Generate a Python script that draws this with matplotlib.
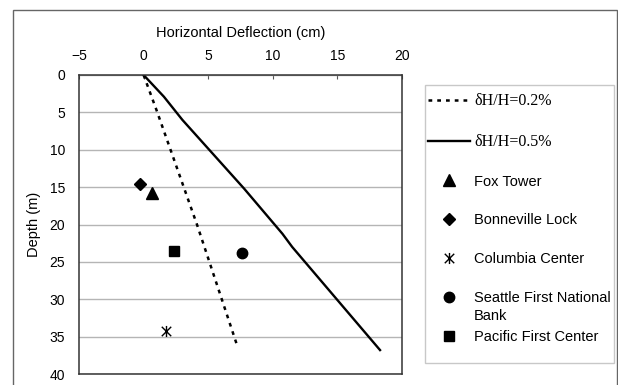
import matplotlib
matplotlib.use("Agg")
import matplotlib.pyplot as plt
from matplotlib.path import Path
from matplotlib.patches import Rectangle

# ---- data ----
depth_02 = [0, 4.7, 20.1, 36.5]
defl_02 = [0, 1.0, 4.15, 7.3]
depth_05 = [0, 2.9, 6.0, 15.2, 21.25, 23.0, 36.8]
defl_05 = [0, 1.57, 3.0, 7.78, 10.75, 11.5, 18.3]

buildings = ["Fox Tower", "Bonneville Lock", "Columbia Center",
             "Seattle First National", "Pacific First Center"]
bld_defl = [0.67, -0.29, 1.7, 7.65, 2.35]
bld_depth = [15.8, 14.6, 34.3, 23.8, 23.6]

x_ticks = [-5, 0, 5, 10, 15, 20]
y_ticks = [0, 5, 10, 15, 20, 25, 30, 35, 40]

SANS = "Liberation Sans"
SERIF = "Liberation Serif"
FS_TICK = 10
FS = 10.5

W, H = 618, 385
fig = plt.figure(figsize=(W / 100, H / 100), dpi=100)

def fx(px):
    return px / W

def fy(py):
    return 1 - py / H

ax = fig.add_axes([fx(79), fy(374), fx(402) - fx(79), fy(75) - fy(374)])

ax.plot(defl_02, depth_02, color="black", lw=1.8, linestyle=(0, (1.5, 2.0)),
        label="δH/H=0.2%")
ax.plot(defl_05, depth_05, color="black", lw=1.7, label="δH/H=0.5%")

star = Path([(0, -1), (0, 1), (-0.85, -0.85), (0.85, 0.85), (-0.85, 0.85), (0.85, -0.85)],
            [Path.MOVETO, Path.LINETO, Path.MOVETO, Path.LINETO, Path.MOVETO, Path.LINETO])
markers = ["^", "D", star, "o", "s"]
msizes = [8, 6, 8, 7.5, 6.5]
for name, xv, yv, m, ms in zip(buildings, bld_defl, bld_depth, markers, msizes):
    ax.plot([xv], [yv], linestyle="none", marker=m, markersize=ms,
            color="black", markeredgecolor="black", markeredgewidth=1.0,
            label=name)

ax.set_xlim(-5, 20)
ax.set_ylim(40, 0)
ax.set_xticks(x_ticks)
ax.set_yticks(y_ticks)
ax.xaxis.tick_top()
ax.xaxis.set_label_position("top")
ax.tick_params(axis="x", direction="in", length=3, width=0.8, color="#555555",
               pad=8.5, labelsize=FS_TICK)
ax.tick_params(axis="y", length=0, pad=10, labelsize=FS_TICK)
for lab in ax.get_xticklabels() + ax.get_yticklabels():
    lab.set_fontfamily(SANS)
ax.set_xlabel("Horizontal Deflection (cm)", fontsize=FS, fontfamily=SANS, labelpad=8.8)
ax.set_ylabel("Depth (m)", fontsize=FS, fontfamily=SANS, labelpad=6)
ax.yaxis.grid(True, color="#b5b5b5", lw=1.0)
ax.set_axisbelow(True)
for s in ax.spines.values():
    s.set_color("#333333")
    s.set_linewidth(1.1)

# outer chart frame
fig.patches.append(Rectangle((fx(13), fy(420)), fx(617) - fx(13), fy(9.5) - fy(420),
                             transform=fig.transFigure, fill=False,
                             edgecolor="#666666", lw=1.0))
# legend frame
fig.patches.append(Rectangle((fx(425), fy(363)), fx(614) - fx(425), fy(85) - fy(363),
                             transform=fig.transFigure, fill=False,
                             edgecolor="#c8c8c8", lw=1.0))

all_handles = ax.get_lines()
labels = [h.get_label() for h in all_handles]
leg = fig.legend(all_handles, labels, loc="upper left",
                 bbox_to_anchor=(fx(428), fy(93)), bbox_transform=fig.transFigure,
                 frameon=False, borderpad=0, borderaxespad=0,
                 handlelength=2.85, handletextpad=0.3, labelspacing=1.70,
                 prop={"family": SANS, "size": FS})
for t in leg.get_texts()[:2]:
    t.set_fontfamily(SERIF)
    t.set_fontsize(11.5)

fig.canvas.draw()
st = leg.get_texts()[5]
bb = st.get_window_extent()
fig.text(bb.x0 / W, (bb.y0 - 4) / H, "Bank", fontsize=FS, fontfamily=SANS,
         va="top", ha="left")

fig.savefig("out.png", dpi=100)
